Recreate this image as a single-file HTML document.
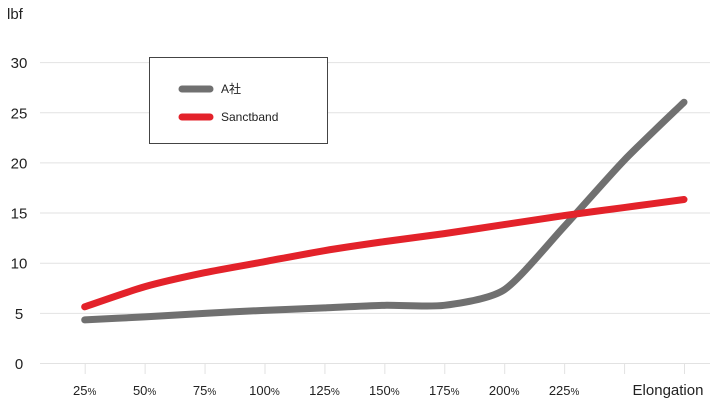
<!DOCTYPE html>
<html><head><meta charset="utf-8"><style>
body{margin:0;background:#fff;}
svg{display:block;font-family:"Liberation Sans","Noto Sans CJK JP",sans-serif;}
</style></head><body>
<svg id="chart" width="710" height="400" viewBox="0 0 710 400">
<g id="grid"></g><g id="axes"></g><g id="series"></g>
<g>
<rect x="149.5" y="57.5" width="178" height="86" fill="#fff" stroke="#444" stroke-width="1"/>
<line x1="182" y1="89" x2="210" y2="89" stroke="#707070" stroke-width="7" stroke-linecap="round"/>
<text x="221" y="93" font-size="12" fill="#222">A社</text>
<line x1="182" y1="117" x2="210" y2="117" stroke="#e3222a" stroke-width="7" stroke-linecap="round"/>
<text x="221" y="121" font-size="12" fill="#222">Sanctband</text>
</g>
</svg>
<script>
const categories=["25%","50%","75%","100%","125%","150%","175%","200%","225%","250%","275%"];
const tickLabels=["25","50","75","100","125","150","175","200","225"];
const yTicks=[0,5,10,15,20,25,30];
const seriesA=[4.3,4.6,4.95,5.25,5.5,5.75,5.75,7.3,13.6,20.2,26];
const seriesS=[5.6,7.6,9.0,10.1,11.2,12.1,12.9,13.8,14.7,15.5,16.3];
const NS='http://www.w3.org/2000/svg';
function x(i){return 84.7+i*59.93;}
function y(v){return 363-v*10.03;}
function mk(t,a,p){const e=document.createElementNS(NS,t);for(const k in a)e.setAttribute(k,a[k]);p.appendChild(e);return e;}
const grid=document.getElementById('grid'),axes=document.getElementById('axes'),ser=document.getElementById('series');
yTicks.forEach(v=>{
 const l=mk('line',{x1:40,x2:710,y1:y(v)+0.5,y2:y(v)+0.5,stroke:'#e2e2e2','stroke-width':1},grid);
 
 
 const t=mk('text',{x:19,y:y(v)+6,'font-size':15,'text-anchor':'middle',fill:'#222'},axes);
 t.textContent=v;
 
 
});
const lb=mk('text',{x:7,y:19,'font-size':15,fill:'#222'},axes);lb.textContent='lbf';


categories.forEach((c,i)=>{
 const tk=mk('line',{x1:x(i)+0.5,x2:x(i)+0.5,y1:363,y2:374,stroke:'#e2e2e2'},axes);
 
 
});
tickLabels.forEach((c,i)=>{
 const t=mk('text',{x:x(i),y:395,'font-size':13,'text-anchor':'middle',fill:'#222'},axes);
 t.innerHTML=c+'<tspan font-size="10">%</tspan>';
 
 
});
const el=mk('text',{x:668,y:395,'font-size':15,'text-anchor':'middle',fill:'#222'},axes);el.textContent='Elongation';


function path(vals){
 const p=vals.map((v,i)=>[x(i),y(v)]);let d='M'+p[0][0]+','+p[0][1];
 for(let i=0;i<p.length-1;i++){
  const p0=p[i-1]||p[i],p1=p[i],p2=p[i+1],p3=p[i+2]||p2,k=0.12;
  d+=' C'+(p1[0]+(p2[0]-p0[0])*k)+','+(p1[1]+(p2[1]-p0[1])*k)+' '+(p2[0]-(p3[0]-p1[0])*k)+','+(p2[1]-(p3[1]-p1[1])*k)+' '+p2[0]+','+p2[1];
 }
 return d;
}
const a=mk('path',{d:path(seriesA),fill:'none',stroke:'#707070','stroke-width':7,'stroke-linecap':'round','stroke-linejoin':'round'},ser);


const s=mk('path',{d:path(seriesS),fill:'none',stroke:'#e3222a','stroke-width':7,'stroke-linecap':'round','stroke-linejoin':'round'},ser);


</script>
</body></html>
